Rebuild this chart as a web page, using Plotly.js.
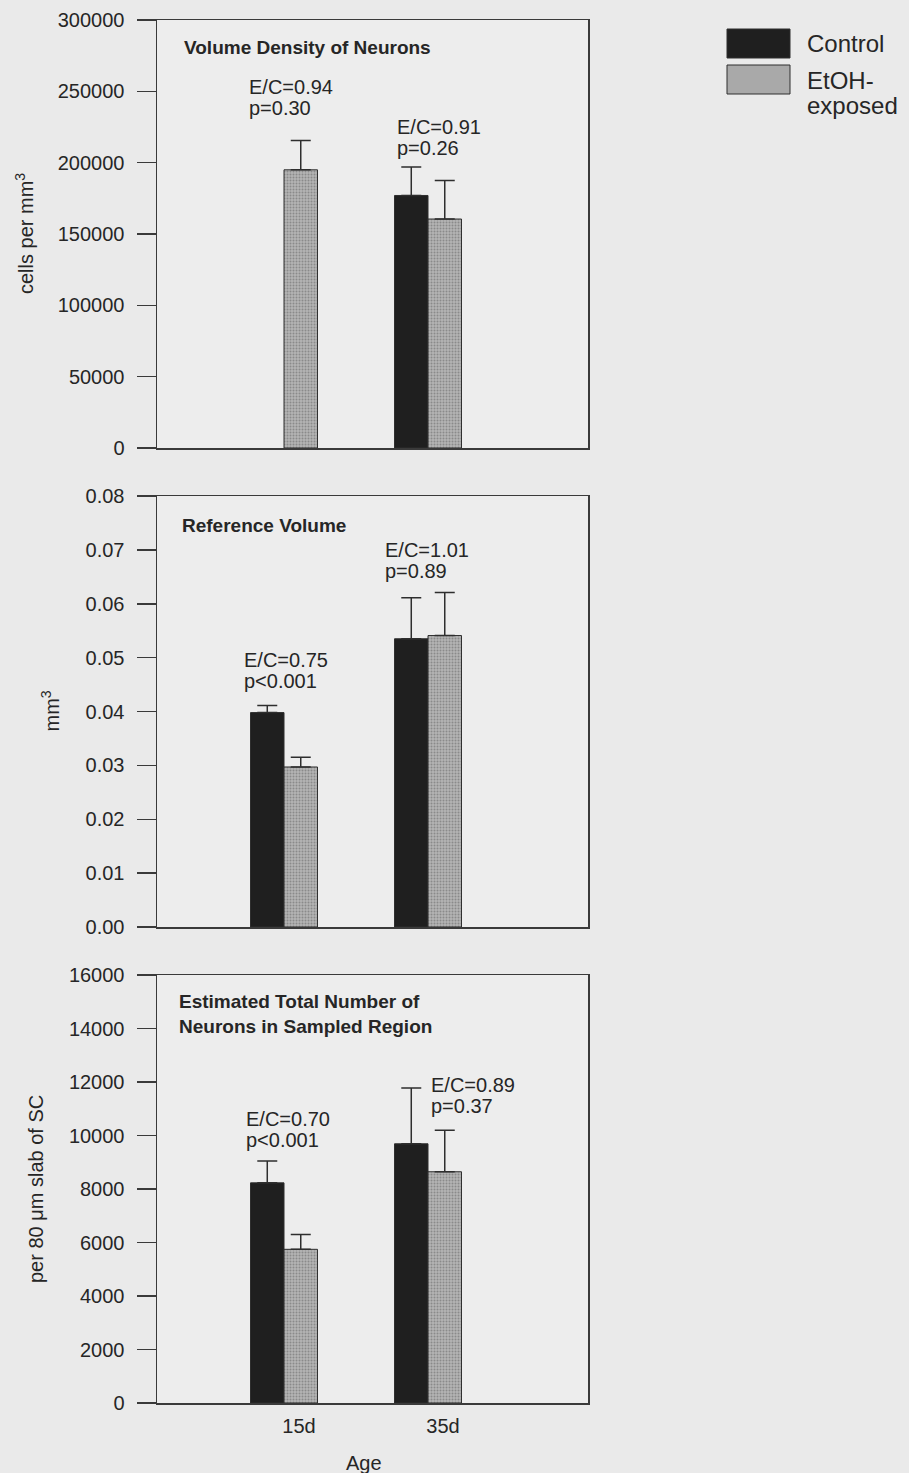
<!DOCTYPE html>
<html>
<head>
<meta charset="utf-8">
<script src="https://cdn.plot.ly/plotly-3.0.1.min.js"></script>
<style>
  html, body { margin: 0; padding: 0; background: #eaeaea; }
  #chart { width: 909px; height: 1473px; }
</style>
</head>
<body>
<div id="chart"></div>
<script>
// Age groups and series
const ages = ['15d', '35d'];
const seriesNames = ['Control', 'EtOH-exposed'];

// Volume density of neurons (cells per mm^3), mean and upper SE
const densityControl = [null, 177000];
const densityControlErr = [null, 20000];
const densityEtOH = [195000, 160500];
const densityEtOHErr = [20500, 27000];
const densityStats = [['E/C=0.94', 'p=0.30'], ['E/C=0.91', 'p=0.26']];

// Reference volume (mm^3)
const volumeControl = [0.0398, 0.0535];
const volumeControlErr = [0.0013, 0.0076];
const volumeEtOH = [0.0297, 0.0541];
const volumeEtOHErr = [0.0018, 0.0080];
const volumeStats = [['E/C=0.75', 'p<0.001'], ['E/C=1.01', 'p=0.89']];

// Estimated total number of neurons per 80 um slab
const totalControl = [8230, 9690];
const totalControlErr = [820, 2090];
const totalEtOH = [5745, 8645];
const totalEtOHErr = [550, 1550];
const totalStats = [['E/C=0.70', 'p<0.001'], ['E/C=0.89', 'p=0.37']];

// Panel texts and y scales
const panelTitles = ['Volume Density of Neurons', 'Reference Volume',
                     'Estimated Total Number of<br>Neurons in Sampled Region'];
const yTitles = ['cells per mm<sup>3</sup>', 'mm<sup>3</sup>', 'per 80 \u03bcm slab of SC'];
const yMax = [300000, 0.08, 16000];
const yStep = [50000, 0.01, 2000];
const yFormat = ['d', '.2f', 'd'];
const xTitle = 'Age';

// ---- page geometry (pixels) ----
const W = 909, H = 1473;
const px = x => x / W;
const py = y => 1 - y / H;
const plotLeft = 157, plotRight = 588;
const panelTops = [20, 496, 975];
const panelBottoms = [448, 927, 1403];
const yTitleX = [25, 50, 36];
const titlePos = [[182, 48], [180, 525], [177, 1014]];
const statPos = [
  [[247, 87], [395, 127]],
  [[242, 660], [383, 550]],
  [[244, 1119], [429, 1085]]
];
const statLineGap = 20.5;

const FONT = 'Liberation Sans, Arial, Helvetica, sans-serif';
const INK = '#262626';
const LINE = '#3a3a3a';
const CONTROL_FILL = '#1f1f1f';
const ETOH_FILL = '#a9a9a9';

const panelData = [
  [densityControl, densityControlErr, densityEtOH, densityEtOHErr],
  [volumeControl, volumeControlErr, volumeEtOH, volumeEtOHErr],
  [totalControl, totalControlErr, totalEtOH, totalEtOHErr]
];
const panelStats = [densityStats, volumeStats, totalStats];

const zeros = n => new Array(n).fill(0);

function barTrace(i, name, values, errs, fill, pattern) {
  const suffix = i === 0 ? '' : String(i + 1);
  const t = {
    type: 'bar',
    name: name,
    x: ages,
    y: values,
    xaxis: 'x' + suffix,
    yaxis: 'y' + suffix,
    showlegend: false,
    marker: { color: fill, line: { color: '#2e2e2e', width: 1 } },
    error_y: {
      type: 'data', symmetric: false, array: errs, arrayminus: zeros(errs.length),
      color: '#2e2e2e', thickness: 1.5, width: 10
    },
    hoverinfo: 'skip'
  };
  if (pattern) t.marker.pattern = pattern;
  return t;
}

const traces = [];
panelData.forEach((d, i) => {
  traces.push(barTrace(i, seriesNames[0], d[0], d[1], CONTROL_FILL));
  traces.push(barTrace(i, seriesNames[1], d[2], d[3], ETOH_FILL,
    { shape: '.', fgcolor: '#8a8a8a', bgcolor: '#b4b4b4', size: 3, solidity: 0.35 }));
});

const layout = {
  width: W, height: H,
  margin: { l: 0, r: 0, t: 0, b: 0, pad: 0 },
  paper_bgcolor: '#eaeaea',
  plot_bgcolor: '#ededed',
  barmode: 'group',
  bargap: 0.535,
  bargroupgap: 0,
  font: { family: FONT, color: INK, size: 20 },
  showlegend: false,
  annotations: [],
  shapes: []
};

for (let i = 0; i < 3; i++) {
  const suffix = i === 0 ? '' : String(i + 1);
  const xName = 'xaxis' + suffix, yName = 'yaxis' + suffix;
  const isBottom = i === 2;
  layout[xName] = {
    type: 'category',
    categoryorder: 'array', categoryarray: ages,
    range: [-0.882, 2.111],
    domain: [px(plotLeft), px(plotRight)],
    anchor: 'y' + suffix,
    showline: true, mirror: true, linecolor: LINE, linewidth: 1.5,
    ticks: '', showgrid: false, zeroline: false,
    showticklabels: isBottom,
    tickfont: { family: FONT, size: 20, color: INK },
    ticklabelshift: 15,
    ticklabelstandoff: 4,
    fixedrange: true
  };
  layout[yName] = {
    range: [0, yMax[i]],
    domain: [py(panelBottoms[i]), py(panelTops[i])],
    anchor: 'x' + suffix,
    tick0: 0, dtick: yStep[i], tickformat: yFormat[i],
    ticks: 'outside', ticklen: 19, tickwidth: 1.5, tickcolor: LINE,
    showline: true, mirror: true, linecolor: LINE, linewidth: 1.5,
    showgrid: false, zeroline: false,
    tickfont: { family: FONT, size: 20, color: INK },
    ticklabelstandoff: 8,
    fixedrange: true
  };

  // y-axis title
  layout.annotations.push({
    xref: 'paper', yref: 'paper',
    x: px(yTitleX[i]), y: py((panelTops[i] + panelBottoms[i]) / 2),
    text: yTitles[i], textangle: -90, showarrow: false,
    xanchor: 'center', yanchor: 'middle',
    font: { family: FONT, size: 20, color: INK }
  });

  // panel heading
  layout.annotations.push({
    xref: 'paper', yref: 'paper',
    x: px(titlePos[i][0]), y: py(titlePos[i][1]),
    text: '<b>' + panelTitles[i] + '</b>', showarrow: false,
    xanchor: 'left', yanchor: 'middle', align: 'left',
    font: { family: FONT, size: 19, color: INK }
  });

  // E/C ratio and p value per age group
  panelStats[i].forEach((lines, k) => {
    lines.forEach((txt, j) => {
      layout.annotations.push({
        xref: 'paper', yref: 'paper',
        x: px(statPos[i][k][0]), y: py(statPos[i][k][1] + j * statLineGap),
        text: txt, showarrow: false,
        xanchor: 'left', yanchor: 'middle',
        font: { family: FONT, size: 20, color: INK }
      });
    });
  });
}

// x-axis title
layout.annotations.push({
  xref: 'paper', yref: 'paper', x: px(364), y: py(1463),
  text: xTitle, showarrow: false, xanchor: 'center', yanchor: 'middle',
  font: { family: FONT, size: 20, color: INK }
});

// legend keys
const legendFills = [CONTROL_FILL, ETOH_FILL];
const keyTops = [29, 65];
seriesNames.forEach((name, k) => {
  layout.shapes.push({
    type: 'rect', xref: 'paper', yref: 'paper',
    x0: px(727), x1: px(790), y0: py(keyTops[k] + 29), y1: py(keyTops[k]),
    fillcolor: legendFills[k], line: { color: '#2e2e2e', width: 1 }
  });
  const parts = name.split(/(?<=-)/);
  parts.forEach((part, j) => {
    layout.annotations.push({
      xref: 'paper', yref: 'paper',
      x: px(805), y: py(keyTops[k] + 15 + j * 25),
      text: part, showarrow: false, xanchor: 'left', yanchor: 'middle',
      font: { family: FONT, size: 24, color: INK }
    });
  });
});

Plotly.newPlot('chart', traces, layout, { displayModeBar: false, staticPlot: true });
</script>
</body>
</html>
